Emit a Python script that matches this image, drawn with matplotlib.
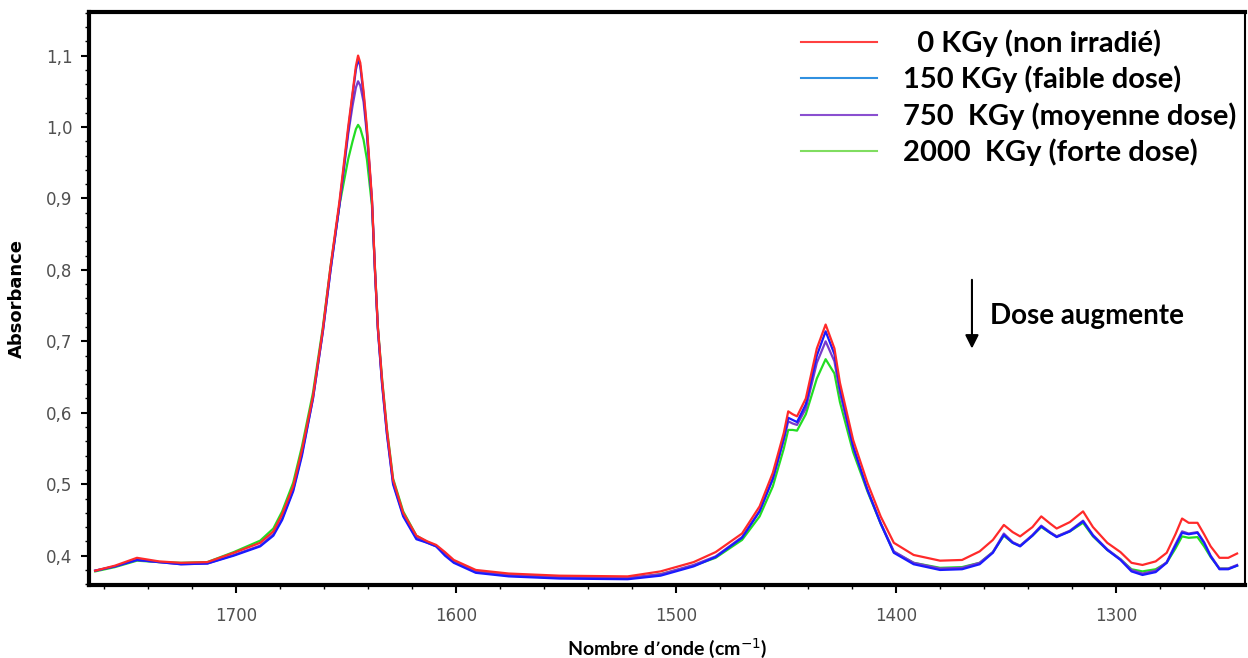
import matplotlib.pyplot as plt
from matplotlib.lines import Line2D
from matplotlib.ticker import MultipleLocator, FuncFormatter

# Nombre d'onde (cm-1), commun aux 4 spectres
nombre_onde = [1764, 1755, 1745, 1735, 1725, 1713, 1701, 1689, 1683, 1679, 1674, 1670,
               1665, 1660.5, 1657, 1653, 1649, 1647, 1645.5, 1644.5, 1643.5, 1642, 1640.5,
               1638.2, 1636.8, 1635.5, 1633.6, 1631.4, 1628.6, 1624, 1618, 1613, 1609, 1605,
               1601, 1591, 1576, 1553, 1522, 1507, 1492,
               1482, 1470, 1462, 1456, 1451, 1449, 1447, 1445, 1441, 1436, 1432, 1428, 1425.5,
               1419.5, 1413, 1407, 1401, 1392, 1380, 1370, 1362, 1356, 1351, 1347, 1343.6,
               1338, 1334, 1330, 1327, 1321, 1315, 1310.5, 1304, 1298, 1293, 1288, 1282,
               1277, 1273, 1270, 1267, 1263, 1260, 1257, 1253, 1249, 1245]

# Absorbance, 0 KGy (non irradie)
abs_0 = [0.379, 0.386, 0.397, 0.392, 0.390, 0.391, 0.404, 0.418, 0.434, 0.458, 0.497, 0.548,
         0.623, 0.717, 0.805, 0.895, 1.000, 1.048, 1.085, 1.100, 1.090, 1.050, 1.000,
         0.900, 0.800, 0.720, 0.646, 0.576, 0.506, 0.460, 0.428, 0.420, 0.415, 0.405,
         0.394, 0.380, 0.375, 0.372, 0.371, 0.378, 0.391,
         0.405, 0.431, 0.469, 0.516, 0.572, 0.602, 0.598, 0.595, 0.620, 0.690, 0.7235, 0.690, 0.642,
         0.562, 0.502, 0.455, 0.418, 0.401, 0.393, 0.394, 0.406, 0.422, 0.443, 0.433, 0.427,
         0.440, 0.455, 0.445, 0.438, 0.447, 0.462, 0.440, 0.418, 0.405, 0.390, 0.387, 0.392,
         0.404, 0.430, 0.452, 0.446, 0.446, 0.430, 0.413, 0.397, 0.397, 0.403]

# 150 KGy (faible dose)
abs_150 = [0.379, 0.385, 0.394, 0.391, 0.388, 0.389, 0.400, 0.413, 0.428, 0.450, 0.490, 0.540,
           0.620, 0.714, 0.800, 0.890, 0.995, 1.045, 1.080, 1.095, 1.085, 1.045, 0.995,
           0.897, 0.797, 0.717, 0.640, 0.570, 0.500, 0.455, 0.423, 0.418, 0.413, 0.400,
           0.390, 0.376, 0.371, 0.368, 0.367, 0.372, 0.385,
           0.398, 0.425, 0.462, 0.508, 0.565, 0.593, 0.590, 0.587, 0.612, 0.680, 0.714, 0.682, 0.635,
           0.553, 0.492, 0.445, 0.404, 0.388, 0.380, 0.381, 0.388, 0.404, 0.429, 0.418, 0.413,
           0.428, 0.441, 0.432, 0.426, 0.434, 0.448, 0.428, 0.408, 0.394, 0.378, 0.373, 0.377,
           0.390, 0.414, 0.432, 0.430, 0.432, 0.418, 0.399, 0.381, 0.381, 0.386]

# 750 KGy (moyenne dose)
abs_750 = [0.379, 0.385, 0.394, 0.391, 0.388, 0.389, 0.401, 0.414, 0.430, 0.452, 0.492, 0.543,
           0.620, 0.714, 0.800, 0.890, 0.990, 1.030, 1.055, 1.064, 1.058, 1.035, 0.990,
           0.897, 0.797, 0.717, 0.642, 0.572, 0.502, 0.457, 0.425, 0.418, 0.413, 0.402,
           0.391, 0.378, 0.373, 0.370, 0.369, 0.374, 0.387,
           0.399, 0.426, 0.463, 0.507, 0.562, 0.588, 0.585, 0.583, 0.606, 0.670, 0.700, 0.672, 0.628,
           0.552, 0.492, 0.446, 0.406, 0.390, 0.382, 0.383, 0.390, 0.405, 0.431, 0.419, 0.414,
           0.429, 0.442, 0.433, 0.427, 0.435, 0.449, 0.429, 0.409, 0.395, 0.380, 0.375, 0.379,
           0.391, 0.416, 0.434, 0.431, 0.433, 0.419, 0.400, 0.382, 0.382, 0.387]

# 2000 KGy (forte dose)
abs_2000 = [0.378, 0.384, 0.393, 0.391, 0.390, 0.391, 0.405, 0.421, 0.438, 0.462, 0.502, 0.553,
            0.628, 0.720, 0.805, 0.890, 0.955, 0.980, 0.997, 1.003, 0.998, 0.982, 0.955,
            0.890, 0.800, 0.720, 0.648, 0.578, 0.508, 0.462, 0.428, 0.419, 0.414, 0.403,
            0.392, 0.378, 0.372, 0.369, 0.368, 0.374, 0.386,
            0.397, 0.422, 0.455, 0.497, 0.550, 0.576, 0.576, 0.575, 0.598, 0.648, 0.675, 0.655, 0.615,
            0.545, 0.490, 0.445, 0.405, 0.390, 0.383, 0.384, 0.390, 0.405, 0.428, 0.418, 0.414,
            0.428, 0.440, 0.432, 0.427, 0.434, 0.446, 0.427, 0.408, 0.395, 0.381, 0.378, 0.381,
            0.390, 0.410, 0.427, 0.425, 0.426, 0.413, 0.398, 0.382, 0.382, 0.386]

legendes = ["  0 KGy (non irradié)", "150 KGy (faible dose)",
            "750  KGy (moyenne dose)", "2000  KGy (forte dose)"]
couleurs_trace = ["#ff2a2a", "#1a1aff", "#7a3cc8", "#22dd22"]
couleurs_legende = ["#ff4040", "#3090e0", "#8a4fd0", "#80dd60"]

fig = plt.figure(figsize=(12.48, 6.58), dpi=100)
ax = fig.add_axes([0.0713, 0.111, 0.9263, 0.8708])

series = [abs_0, abs_150, abs_750, abs_2000]
# ordre de trace : le rouge au-dessus
for i in [3, 2, 1, 0]:
    ax.plot(nombre_onde, series[i], color=couleurs_trace[i], lw=1.6, zorder=3 + (3 - i))

ax.set_xlim(1766.8, 1241.4)
ax.set_ylim(0.359, 1.161)
ax.xaxis.set_major_locator(MultipleLocator(100))
ax.xaxis.set_minor_locator(MultipleLocator(20))
ax.yaxis.set_major_locator(MultipleLocator(0.1))
ax.yaxis.set_minor_locator(MultipleLocator(0.02))
ax.yaxis.set_major_formatter(FuncFormatter(lambda v, p: f"{v:.1f}".replace(".", ",")))

for s in ["left", "bottom", "top"]:
    ax.spines[s].set_linewidth(3)
ax.spines["right"].set_linewidth(1.5)
ax.tick_params(axis="both", which="major", direction="out", length=6, width=1.5,
               labelsize=12, labelcolor="#505050")
ax.tick_params(axis="x", which="major", pad=10)
ax.tick_params(axis="y", which="major", pad=6)
ax.tick_params(axis="both", which="minor", direction="out", length=3, width=1)

ax.set_xlabel("Nombre d’onde (cm$^{-1}$)", fontsize=14, fontweight="bold",
              fontfamily="Lato", labelpad=8)
ax.set_ylabel("Absorbance", fontsize=13, fontweight="bold", labelpad=14)

handles = [Line2D([0], [0], color=c, lw=1.5) for c in couleurs_legende]
leg = ax.legend(handles, legendes, loc="upper right", bbox_to_anchor=(1.008, 1.0),
                frameon=False, handlelength=2.6, handletextpad=0.9, labelspacing=0.3,
                borderaxespad=0.2,
                prop={"family": "Lato", "weight": "bold", "size": 21})

ax.annotate("", xy=(1365.5, 0.686), xytext=(1365.5, 0.79),
            arrowprops=dict(arrowstyle="-|>", color="black", lw=1.5, mutation_scale=20))
ax.text(1357.3, 0.736, "Dose augmente", fontsize=20, fontweight="bold",
        fontfamily="Lato", va="center", ha="left")

fig.savefig("out.png", dpi=100)
